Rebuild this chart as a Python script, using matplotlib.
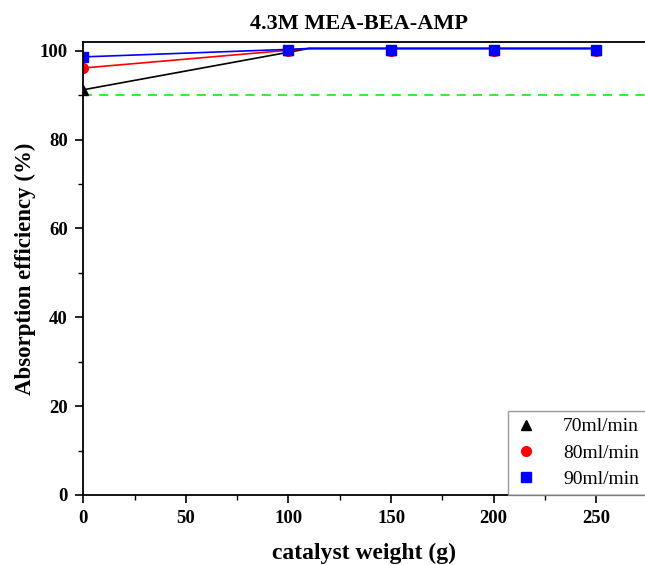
import numpy as np
import matplotlib.pyplot as plt
from matplotlib.ticker import MultipleLocator

plt.rcParams['font.family'] = ['Liberation Serif', 'DejaVu Serif']

weight = [0, 100, 150, 200, 250]
eff_70 = [91.2, 100.1, 100.1, 100.1, 100.1]
eff_80 = [96.1, 100.0, 100.0, 100.0, 100.0]
eff_90 = [98.6, 100.2, 100.2, 100.2, 100.2]

# connecting lines as drawn in the original
line_x_70 = [0, 110, 250]
line_y_70 = [91.2, 100.5, 100.5]
line_x_80 = [0, 100, 110, 250]
line_y_80 = [96.1, 100.1, 100.5, 100.5]
line_x_90 = [0, 100, 110, 250]
line_y_90 = [98.6, 100.3, 100.5, 100.5]
target = 90

fig = plt.figure(figsize=(6.45, 5.65), dpi=100)
ax = fig.add_axes([0.129, 0.124, 0.872, 0.802])

ax.plot(line_x_70, line_y_70, color='black', lw=1.2)
ax.plot(line_x_80, line_y_80, color='red', lw=1.2)
ax.plot(line_x_90, line_y_90, color='blue', lw=1.2)
ax.plot(weight, eff_70, '^', color='black', ms=7, label='70ml/min')
ax.plot(weight, eff_80, 'o', color='red', ms=7, label='80ml/min')
ax.plot(weight, eff_90, 's', color='blue', ms=6.5, label='90ml/min')
ax.axhline(target, color='#22ee22', lw=1.3, ls=(0, (5, 4)), zorder=0)

ax.set_xlim(0, 274)
ax.set_ylim(0, 102)
ax.xaxis.set_major_locator(MultipleLocator(50))
ax.xaxis.set_minor_locator(MultipleLocator(25))
ax.yaxis.set_major_locator(MultipleLocator(20))
ax.yaxis.set_minor_locator(MultipleLocator(10))
ax.tick_params(which='major', direction='out', length=6, width=1.2, labelsize=13.5, pad=5)
ax.tick_params(which='minor', direction='out', length=3.5, width=1.0)
for lab in ax.get_xticklabels() + ax.get_yticklabels():
    lab.set_fontweight('bold')
for s in ax.spines.values():
    s.set_linewidth(1.3)

ax.set_title('4.3M MEA-BEA-AMP', fontsize=16, fontweight='bold', pad=9, x=0.49)
ax.set_xlabel('catalyst weight (g)', fontsize=17, fontweight='bold', labelpad=11)
ax.set_ylabel('Absorption efficiency (%)', fontsize=16.5, fontweight='bold', labelpad=3)

leg = ax.legend(loc='lower right', fontsize=14, frameon=True, fancybox=False,
                edgecolor='gray', handlelength=1.2, handletextpad=1.3,
                borderaxespad=0.0, borderpad=0.35, labelspacing=0.45)
leg.get_frame().set_linewidth(1.0)

fig.savefig('out.png', dpi=100)
